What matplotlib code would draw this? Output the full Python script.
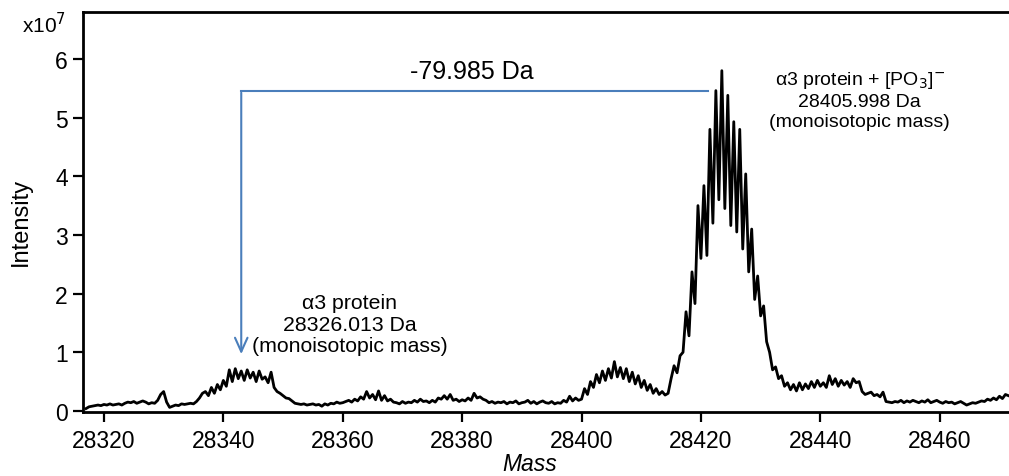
import numpy as np
import matplotlib
matplotlib.use('Agg')
from matplotlib import pyplot as plt

plt.rcParams['font.family'] = ['Liberation Sans', 'DejaVu Sans']

# mass axis: 0.5 Da sampling from 28317.0 to 28471.5
mass_start, mass_step, n_points = 28317.0, 0.5, 310

# intensity (x1e7) in 10 Da blocks
intensity = [
    # 28317.0 - 28326.5
    0.04, 0.07, 0.08, 0.09, 0.10, 0.09, 0.11, 0.10, 0.12, 0.10,
    0.11, 0.12, 0.10, 0.13, 0.15, 0.14, 0.16, 0.13, 0.15, 0.17,
    # 28327.0 - 28336.5
    0.15, 0.12, 0.14, 0.13, 0.18, 0.28, 0.33, 0.15, 0.06, 0.08,
    0.10, 0.09, 0.12, 0.11, 0.12, 0.13, 0.12, 0.16, 0.22, 0.30,
    # 28337.0 - 28346.5
    0.33, 0.26, 0.40, 0.30, 0.45, 0.36, 0.52, 0.42, 0.70, 0.50,
    0.72, 0.55, 0.68, 0.52, 0.70, 0.56, 0.66, 0.50, 0.68, 0.54,
    # 28347.0 - 28356.5
    0.58, 0.48, 0.66, 0.40, 0.33, 0.30, 0.26, 0.22, 0.21, 0.17,
    0.13, 0.12, 0.11, 0.12, 0.10, 0.11, 0.12, 0.10, 0.11, 0.08,
    # 28357.0 - 28366.5
    0.12, 0.10, 0.13, 0.12, 0.15, 0.13, 0.14, 0.16, 0.18, 0.15,
    0.20, 0.17, 0.24, 0.20, 0.33, 0.22, 0.28, 0.19, 0.34, 0.18,
    # 28367.0 - 28376.5
    0.26, 0.17, 0.20, 0.15, 0.14, 0.12, 0.16, 0.13, 0.15, 0.14,
    0.18, 0.15, 0.20, 0.16, 0.17, 0.14, 0.18, 0.15, 0.22, 0.20,
    # 28377.0 - 28386.5
    0.26, 0.20, 0.28, 0.18, 0.20, 0.16, 0.19, 0.17, 0.22, 0.18,
    0.30, 0.22, 0.24, 0.20, 0.18, 0.14, 0.16, 0.13, 0.15, 0.14,
    # 28387.0 - 28396.5
    0.16, 0.12, 0.15, 0.14, 0.17, 0.12, 0.14, 0.15, 0.18, 0.13,
    0.16, 0.12, 0.15, 0.17, 0.14, 0.13, 0.16, 0.12, 0.14, 0.13,
    # 28397.0 - 28406.5
    0.18, 0.15, 0.25, 0.17, 0.22, 0.18, 0.20, 0.38, 0.28, 0.50,
    0.40, 0.62, 0.48, 0.68, 0.52, 0.72, 0.56, 0.84, 0.58, 0.74,
    # 28407.0 - 28416.5
    0.55, 0.72, 0.50, 0.66, 0.46, 0.60, 0.40, 0.52, 0.35, 0.45,
    0.30, 0.38, 0.28, 0.33, 0.27, 0.30, 0.55, 0.77, 0.65, 0.94,
    # 28417.0 - 28426.5
    1.00, 1.69, 1.28, 2.37, 1.83, 3.50, 2.60, 3.84, 2.65, 4.80,
    3.20, 5.46, 3.60, 5.80, 3.45, 5.38, 3.16, 4.93, 3.05, 4.80,
    # 28427.0 - 28436.5
    2.76, 4.04, 2.37, 3.10, 1.90, 2.30, 1.62, 1.79, 1.18, 1.00,
    0.70, 0.75, 0.55, 0.60, 0.42, 0.48, 0.36, 0.45, 0.34, 0.48,
    # 28437.0 - 28446.5
    0.36, 0.46, 0.38, 0.50, 0.40, 0.52, 0.42, 0.48, 0.40, 0.60,
    0.45, 0.55, 0.42, 0.52, 0.44, 0.50, 0.40, 0.55, 0.48, 0.50,
    # 28447.0 - 28456.5
    0.33, 0.28, 0.30, 0.32, 0.26, 0.28, 0.24, 0.32, 0.16, 0.15,
    0.14, 0.16, 0.15, 0.18, 0.14, 0.17, 0.15, 0.18, 0.16, 0.14,
    # 28457.0 - 28466.5
    0.17, 0.15, 0.19, 0.14, 0.16, 0.18, 0.15, 0.13, 0.16, 0.14,
    0.15, 0.12, 0.14, 0.16, 0.13, 0.10, 0.12, 0.14, 0.13, 0.15,
    # 28467.0 - 28471.5
    0.17, 0.16, 0.20, 0.18, 0.22, 0.19, 0.25, 0.21, 0.28, 0.26,
]

x_ticks = [28320, 28340, 28360, 28380, 28400, 28420, 28440, 28460]
y_ticks = [0, 1, 2, 3, 4, 5, 6]

# arrow between the two monoisotopic peaks
shift_label = '-79.985 Da'
arrow_from_mass, arrow_to_mass = 28421.2, 28343.0
arrow_level, arrow_tip = 5.46, 0.92

label_heavy = 'α3 protein + [PO$_3$]$^{-}$\n28405.998 Da\n(monoisotopic mass)'
label_light = 'α3 protein\n28326.013 Da\n(monoisotopic mass)'

mass = mass_start + mass_step * np.arange(n_points)

fig = plt.figure(figsize=(10.09, 4.77), dpi=100)
ax = fig.add_axes([0.0823, 0.134, 0.9177, 0.8387])

ax.plot(mass, intensity, color='black', linewidth=2.0)

blue = '#4a7ebb'
ax.plot([arrow_from_mass, arrow_to_mass], [arrow_level, arrow_level], color=blue, linewidth=1.5)
ax.annotate('', xy=(arrow_to_mass, arrow_tip), xytext=(arrow_to_mass, arrow_level + 0.012),
            arrowprops=dict(arrowstyle='->,head_length=1.0,head_width=0.45', color=blue, lw=1.5))

ax.text(28381.6, 5.80, shift_label, ha='center', va='center', fontsize=18)
ax.text(28446.6, 5.31, label_heavy, ha='center', va='center', fontsize=14, linespacing=1.2)
ax.text(28361.2, 1.48, label_light, ha='center', va='center', fontsize=15.3, linespacing=1.15)

ax.set_xlim(28316.5, 28471.6)
ax.set_ylim(-0.02, 6.8)
ax.set_xticks(x_ticks)
ax.set_yticks(y_ticks)
ax.tick_params(axis='both', direction='out', length=7, width=1.6, labelsize=16.5)
ax.tick_params(axis='x', pad=5)
ax.tick_params(axis='y', pad=4)
for side in ['left', 'bottom', 'top']:
    ax.spines[side].set_linewidth(2)
ax.spines['right'].set_visible(False)

ax.set_xlabel('Mass', fontsize=16.5, style='italic')
ax.xaxis.set_label_coords(0.482, -0.1)
ax.set_ylabel('Intensity', fontsize=17)
ax.yaxis.set_label_coords(-0.055, 0.478)
fig.text(0.022, 0.948, 'x10$^7$', fontsize=15, ha='left', va='center')

fig.savefig('out.png', dpi=100)
